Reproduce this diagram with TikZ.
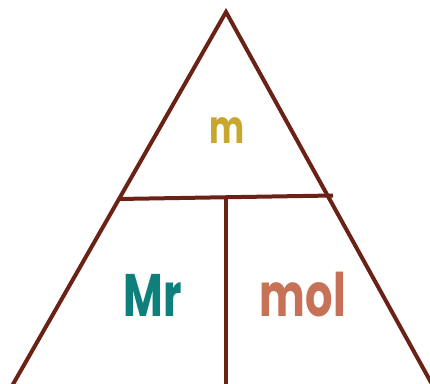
\documentclass[tikz,border=0pt]{standalone}
\usepackage{fontspec}
\setmainfont{Poppins}
\definecolor{linec}{HTML}{6B2216}
\definecolor{mcol}{HTML}{C9A62E}
\definecolor{mrcol}{HTML}{0E7F7A}
\definecolor{molcol}{HTML}{C67256}
\tikzset{
  frame/.style={draw=linec, line width=4pt},
  lbl/.style={inner sep=0pt, font=\bfseries\fontsize{60}{60}\selectfont},
}
\begin{document}
\begin{tikzpicture}[x=1pt,y=-1pt]
\useasboundingbox (0,0) rectangle (430,383);
\begin{scope}
\clip (0,0) rectangle (430,383);
\coordinate (apex) at (226,12);
\coordinate (bl) at (12,386);
\coordinate (br) at (433,386);
\coordinate (barl) at (118,199);
\coordinate (barr) at (333,195.5);
\coordinate (vtop) at (226,198);
\coordinate (vbot) at (226,390);
\draw[frame, line join=miter] (bl) -- (apex) -- (br);
\draw[frame] (barl) -- (barr);
\draw[frame] (vtop) -- (vbot);
\end{scope}
\node[lbl, text=mcol, font=\bfseries\fontsize{46}{46}\selectfont, xscale=0.72] (m) at (227,131) {m};
\node[lbl, text=mrcol, xscale=0.72] (mr) at (153,295) {Mr};
\node[lbl, text=molcol, xscale=0.72] (mol) at (303,295) {mol};
\end{tikzpicture}
\end{document}
